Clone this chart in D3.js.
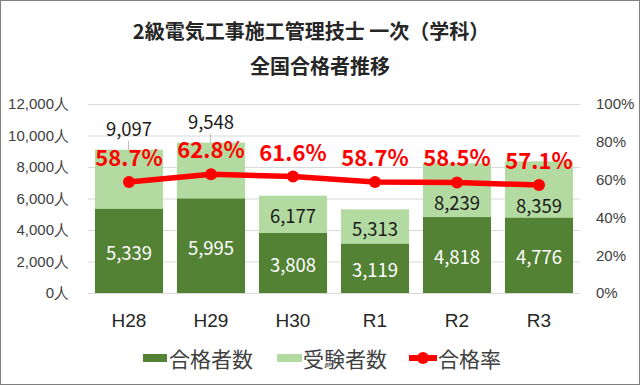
<!DOCTYPE html>
<html>
<head>
<meta charset="utf-8">
<script src="https://cdn.jsdelivr.net/npm/d3@7"></script>
<style>
body { margin:0; background:#fff; }
svg { display:block; font-family:"Noto Sans CJK JP","Noto Sans",sans-serif; }
</style>
</head>
<body>
<svg id="chart" width="640" height="385"></svg>
<script>
var years = ["H28", "H29", "H30", "R1", "R2", "R3"];
var passers = [5339, 5995, 3808, 3119, 4818, 4776];
var examinees = [9097, 9548, 6177, 5313, 8239, 8359];
var rates = [58.7, 62.8, 61.6, 58.7, 58.5, 57.1];
var leftTicks = [0, 2000, 4000, 6000, 8000, 10000, 12000];
var rightTicks = [0, 20, 40, 60, 80, 100];
var titleLines = ["2級電気工事施工管理技士 一次（学科）", "全国合格者推移"];

var chart = {};
chart.w = 640;
chart.h = 385;
chart.left = 88;
chart.right = 580;
chart.top = 104;
chart.bottom = 293;
chart.dark = "#548235";
chart.light = "#b3dba1";
chart.red = "#ff0000";

var svg = d3.select("#chart");

svg.append("rect")
	.attr("x", 0.5).attr("y", 0.5)
	.attr("width", chart.w - 1).attr("height", chart.h - 1)
	.style("fill", "#fff").style("stroke", "#7f7f7f");

var x = d3.scaleBand().domain(years).range([chart.left, chart.right]).paddingInner(0.17).paddingOuter(0.085);
var y = d3.scaleLinear().domain([0, 12000]).range([chart.bottom, chart.top]);
var yr = d3.scaleLinear().domain([0, 100]).range([chart.bottom, chart.top]);
var fmt = d3.format(",");
var cx = function(i){ return x(years[i]) + x.bandwidth() / 2; };

// title
svg.selectAll("text.title").data(titleLines).enter().append("text")
	.attr("class", "title")
	.attr("x", function(d, i){ return i == 0 ? 311 : 320; })
	.attr("y", function(d, i){ return 30 + i * 35; })
	.attr("text-anchor", "middle").attr("dominant-baseline", "central")
	.style("font-size", "20px").style("font-weight", "bold").style("fill", "#262626")
	.text(function(d){ return d; });

// gridlines
svg.append("g").selectAll("line").data(leftTicks).enter().append("line")
	.attr("x1", chart.left).attr("x2", chart.right)
	.attr("y1", function(d){ return y(d) + 0.5; })
	.attr("y2", function(d){ return y(d) + 0.5; })
	.style("stroke", "#d9d9d9").style("stroke-width", 1);

// left axis
var la = svg.append("g").attr("transform", "translate(" + 69 + ",0)")
	.call(d3.axisLeft(y).tickValues(leftTicks).tickSize(0).tickPadding(0)
		.tickFormat(function(d){ return fmt(d) + "人"; }));
la.select(".domain").remove();
la.selectAll("text").style("font-size", "15px").style("fill", "#404040").style("font-family", "inherit");

// right axis
var ra = svg.append("g").attr("transform", "translate(" + 596 + ",0)")
	.call(d3.axisRight(yr).tickValues(rightTicks).tickSize(0).tickPadding(0)
		.tickFormat(function(d){ return d + "%"; }));
ra.select(".domain").remove();
ra.selectAll("text").style("font-size", "15px").style("fill", "#404040").style("font-family", "inherit");

// x axis labels
var xa = svg.append("g").attr("transform", "translate(0," + 313 + ")")
	.call(d3.axisBottom(x).tickSize(0).tickPadding(0));
xa.select(".domain").remove();
xa.selectAll("text").style("font-size", "19px").style("fill", "#262626").style("font-family", "inherit");

// bars
svg.append("g").selectAll("rect").data(examinees).enter().append("rect")
	.attr("x", function(d, i){ return x(years[i]); })
	.attr("y", function(d){ return y(d); })
	.attr("width", x.bandwidth())
	.attr("height", function(d){ return chart.bottom - y(d); })
	.style("fill", chart.light);

svg.append("g").selectAll("rect").data(passers).enter().append("rect")
	.attr("x", function(d, i){ return x(years[i]); })
	.attr("y", function(d){ return y(d); })
	.attr("width", x.bandwidth())
	.attr("height", function(d){ return chart.bottom - y(d); })
	.style("fill", chart.dark);

// passer labels
svg.append("g").selectAll("text").data(passers).enter().append("text")
	.attr("x", function(d, i){ return cx(i); })
	.attr("y", function(d){ return (y(d) + chart.bottom) / 2 + 1; })
	.attr("text-anchor", "middle").attr("dominant-baseline", "central")
	.style("font-size", "18.5px").style("fill", "#fff")
	.text(function(d){ return fmt(d); });

// examinee labels (first two sit above the bar, others kept clear of the rate line)
var outside = function(i){ return i < 2; };
svg.append("g").selectAll("line").data(examinees).enter().filter(function(d, i){ return outside(i); })
	.append("line")
	.attr("x1", function(d, i){ return cx(i) - 0.5; })
	.attr("x2", function(d, i){ return cx(i) - 0.5; })
	.attr("y1", function(d){ return y(d) - 9; })
	.attr("y2", function(d){ return y(d); })
	.style("stroke", "#bfbfbf").style("stroke-width", 1);

svg.append("g").selectAll("text").data(examinees).enter().append("text")
	.attr("x", function(d, i){ return cx(i); })
	.attr("y", function(d, i){
		if (outside(i)) return y(d) - 22;
		return Math.max((y(d) + y(passers[i])) / 2 + 1, yr(rates[i]) + 20);
	})
	.attr("text-anchor", "middle").attr("dominant-baseline", "central")
	.style("font-size", "18.5px").style("fill", "#1a1a1a")
	.text(function(d){ return fmt(d); });

// rate line
var line = d3.line()
	.x(function(d, i){ return cx(i); })
	.y(function(d){ return yr(d); });

svg.append("path").datum(rates)
	.attr("d", line)
	.style("fill", "none").style("stroke", chart.red).style("stroke-width", 5.5)
	.style("stroke-linejoin", "round");

svg.append("g").selectAll("circle").data(rates).enter().append("circle")
	.attr("cx", function(d, i){ return cx(i); })
	.attr("cy", function(d){ return yr(d); })
	.attr("r", 6)
	.style("fill", chart.red);

svg.append("g").selectAll("text").data(rates).enter().append("text")
	.attr("x", function(d, i){ return cx(i); })
	.attr("y", function(d){ return yr(d) - 26; })
	.attr("text-anchor", "middle").attr("dominant-baseline", "central")
	.style("font-size", "22px").style("font-weight", "bold").style("fill", chart.red)
	.text(function(d){ return d.toFixed(1) + "%"; });

// legend
var legend = svg.append("g");
legend.append("rect").attr("x", 143).attr("y", 354).attr("width", 24).attr("height", 8).style("fill", chart.dark);
legend.append("text").attr("x", 169).attr("y", 358).attr("dominant-baseline", "central")
	.style("font-size", "21px").style("fill", "#404040").text("合格者数");
legend.append("rect").attr("x", 277).attr("y", 354).attr("width", 25).attr("height", 8).style("fill", chart.light);
legend.append("text").attr("x", 303).attr("y", 358).attr("dominant-baseline", "central")
	.style("font-size", "21px").style("fill", "#404040").text("受験者数");
legend.append("line").attr("x1", 409).attr("x2", 437).attr("y1", 358).attr("y2", 358)
	.style("stroke", chart.red).style("stroke-width", 6);
legend.append("circle").attr("cx", 423).attr("cy", 358).attr("r", 6).style("fill", chart.red);
legend.append("text").attr("x", 438).attr("y", 358).attr("dominant-baseline", "central")
	.style("font-size", "21px").style("fill", "#404040").text("合格率");
</script>
</body>
</html>
